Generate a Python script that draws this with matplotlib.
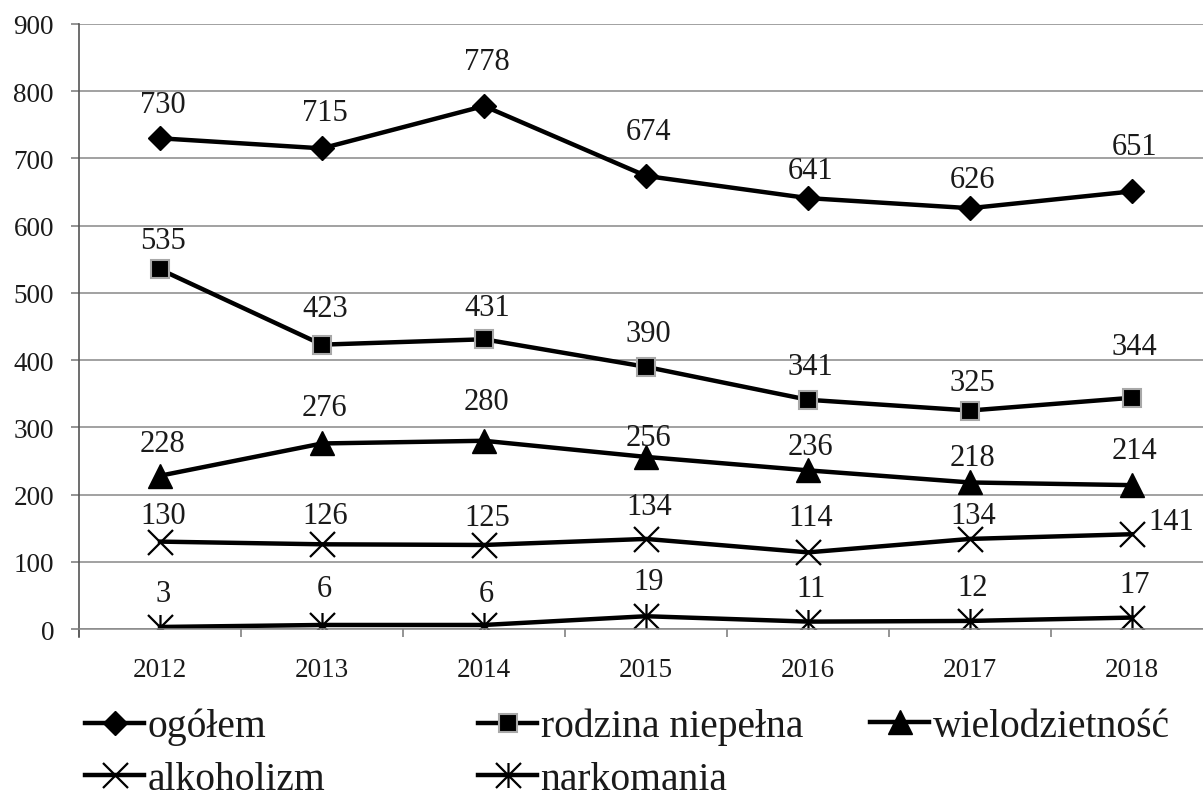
import numpy as np
import matplotlib.pyplot as plt
from matplotlib.path import Path

plt.rcParams['font.family'] = ['Liberation Serif', 'DejaVu Serif']

#------------------------ data ------------------------
years = ['2012', '2013', '2014', '2015', '2016', '2017', '2018']

ogolem = [730, 715, 778, 674, 641, 626, 651]
rodzina = [535, 423, 431, 390, 341, 325, 344]
wielodz = [228, 276, 280, 256, 236, 218, 214]
alkohol = [130, 126, 125, 134, 114, 134, 141]
narko = [3, 6, 6, 19, 11, 12, 17]

labels = ['ogółem', 'rodzina niepełna', 'wielodzietność', 'alkoholizm', 'narkomania']

# label offsets above the points (points)
off_ogolem = [24, 26, 32, 32, 20, 21, 32]
off_rodzina = [21, 26, 23, 24, 24, 20, 37]
off_wielodz = [23, 26, 28, 14, 17, 18, 25]
off_alkohol = [19, 21, 20, 23, 25, 17, 9]
off_narko = [24, 26, 23, 25, 24, 24, 24]

# asterisk marker: X with vertical bar
star = Path([(-1, -1), (1, 1), (-1, 1), (1, -1), (0, -1), (0, 1)],
            [Path.MOVETO, Path.LINETO, Path.MOVETO, Path.LINETO, Path.MOVETO, Path.LINETO])

#------------------- Plotting ---------------
W, H = 1203, 803
fig = plt.figure(figsize=(W / 100, H / 100), dpi=100)
ax = fig.add_axes([79 / W, 1 - 630 / H, (1213 - 79) / W, (630 - 25) / H])

x = np.arange(len(years))
lw = 3.2
tc = '#1a1a1a'

l1, = ax.plot(x, ogolem, '-', color='black', lw=lw, marker='D', ms=12, mfc='black', mec='black', label=labels[0])
l2, = ax.plot(x, rodzina, '-', color='black', lw=lw, marker='s', ms=13, mfc='black', mec='#a8a8a8', mew=1.5, label=labels[1])
l3, = ax.plot(x, wielodz, '-', color='black', lw=lw, marker='^', ms=17, mfc='black', mec='black', label=labels[2])
l4, = ax.plot(x, alkohol, '-', color='black', lw=lw, marker='x', ms=18, mec='black', mew=1.6, label=labels[3])
l5, = ax.plot(x, narko, '-', color='black', lw=lw, marker=star, ms=18, mec='black', mew=1.6, label=labels[4])

for vals, offs in [(ogolem, off_ogolem), (rodzina, off_rodzina), (wielodz, off_wielodz),
                   (alkohol, off_alkohol), (narko, off_narko)]:
    for i, v in enumerate(vals):
        dx = 2
        if vals is alkohol and i == len(vals) - 1:
            dx = 28
        ax.annotate(str(v), (i, v), xytext=(dx, offs[i]), textcoords='offset points',
                    ha='center', va='center', fontsize=22, color=tc)

ax.set_xlim(-0.5, 6.5)
ax.set_ylim(0, 900)
ax.set_yticks(range(0, 901, 100))
ax.yaxis.grid(True, color='#888888', lw=1.1)
ax.set_axisbelow(True)

ax.set_xticks(np.arange(-0.5, 6.6, 1))
ax.set_xticklabels([])
ax.set_xticks(x, minor=True)
ax.set_xticklabels(years, minor=True)
ax.tick_params(axis='x', which='major', length=6, width=1.1, color='#777777', direction='out')
ax.tick_params(axis='x', which='minor', length=0, pad=20, labelsize=19.5, labelcolor=tc)
ax.tick_params(axis='y', length=6, width=1.1, color='#777777', pad=12, labelsize=19.5, labelcolor=tc)

for s in ['top', 'right']:
    ax.spines[s].set_visible(False)
ax.spines['left'].set_color('#555555')
ax.spines['left'].set_linewidth(1.2)
ax.spines['left'].set_bounds(-12, 900)
ax.spines['bottom'].set_color('#888888')
ax.spines['bottom'].set_linewidth(1.1)

leg_kw = dict(loc='upper left', frameon=False, prop={'family': 'Liberation Serif', 'size': 28.5},
              handlelength=1.5, handletextpad=0.08, borderpad=0, borderaxespad=0,
              labelspacing=0.4, labelcolor=tc)
top = 1 - 709 / H
leg1 = fig.legend(handles=[l1, l4], bbox_to_anchor=(85 / W, top), **leg_kw)
leg2 = fig.legend(handles=[l2, l5], bbox_to_anchor=(478 / W, top), **leg_kw)
leg3 = fig.legend(handles=[l3], bbox_to_anchor=(870 / W, top), **leg_kw)

fig.savefig('out.png', dpi=100)
